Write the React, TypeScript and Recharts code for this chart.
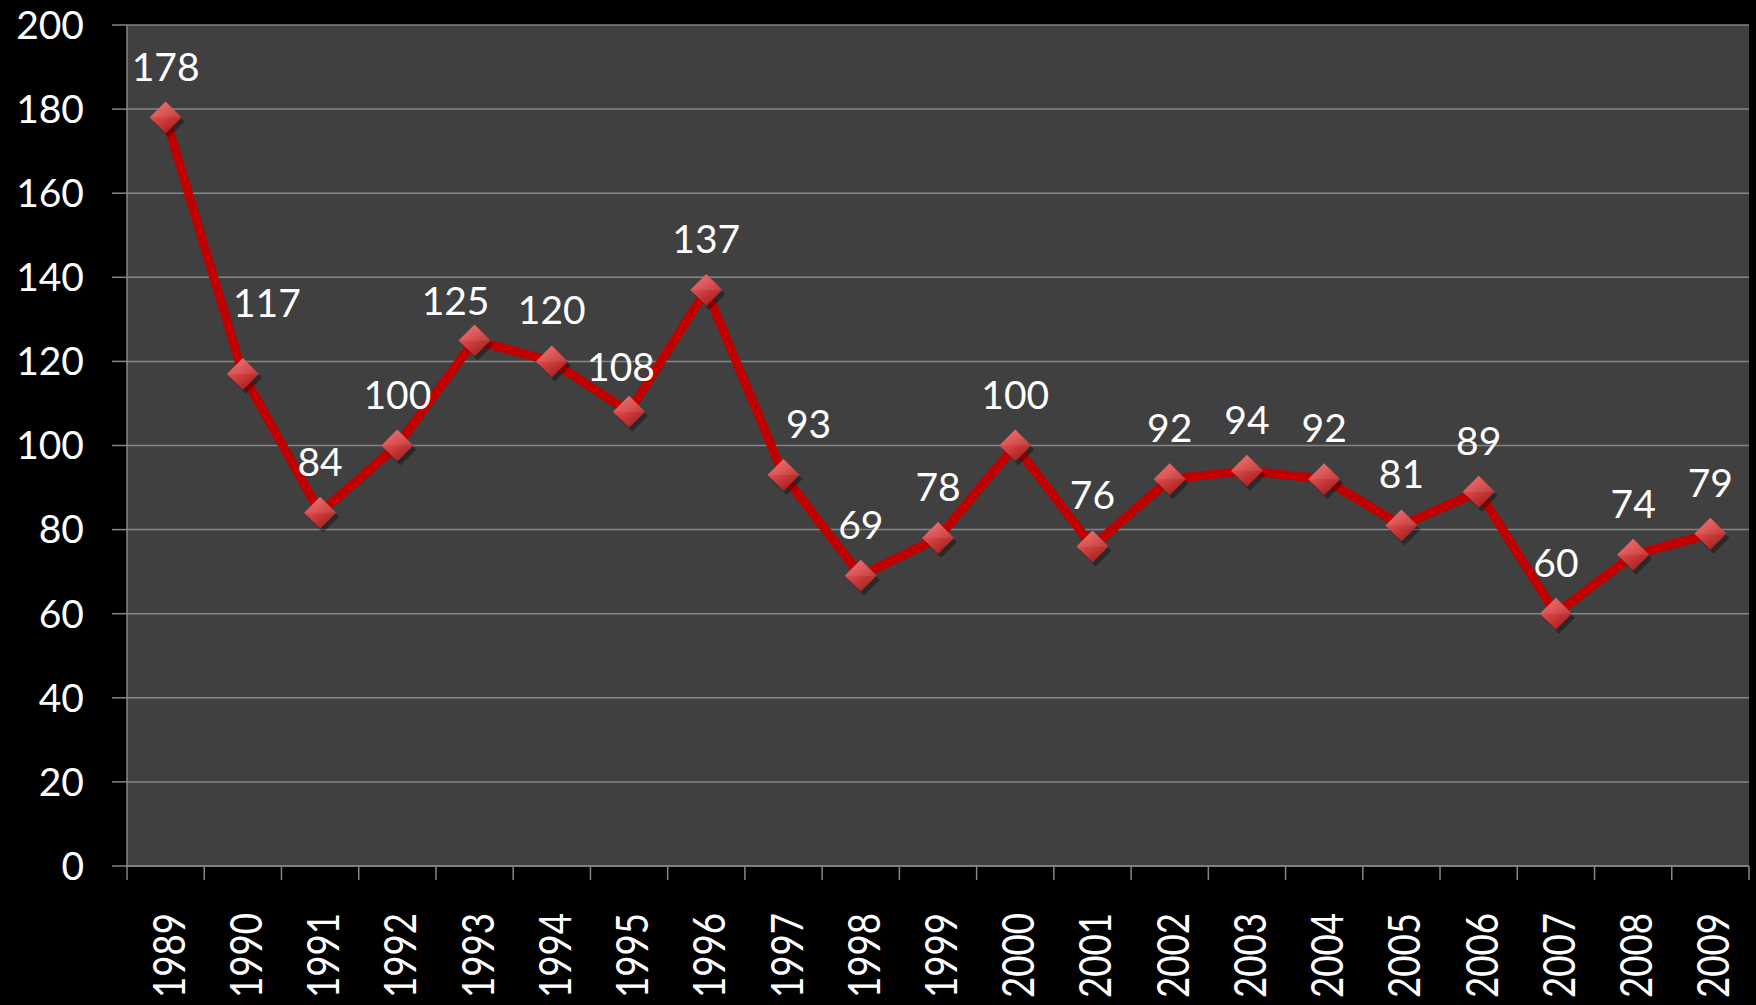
import React from "react";
import {
  LineChart,
  Line,
  XAxis,
  YAxis,
  CartesianGrid,
  LabelList,
} from "recharts";

// chart values
const years = [
  "1989", "1990", "1991", "1992", "1993", "1994", "1995", "1996", "1997", "1998", "1999",
  "2000", "2001", "2002", "2003", "2004", "2005", "2006", "2007", "2008", "2009",
];
const counts = [
  178, 117, 84, 100, 125, 120, 108, 137, 93, 69, 78, 100, 76, 92, 94, 92, 81, 89, 60, 74, 79,
];
const yTicks = [0, 20, 40, 60, 80, 100, 120, 140, 160, 180, 200];

// manual nudges of some data labels (dx, dy), like in the original
const labelNudge: Record<number, [number, number]> = {
  1: [24, -20],
  4: [-19, 12],
  6: [-8, 6],
  8: [25, 0],
};

const data = years.map((year, i) => ({ i, year, count: counts[i] }));
const centerTicks = years.map((_, i) => i);

const WIDTH = 1756;
const HEIGHT = 1005;
const Y_AXIS_W = 127;
const RIGHT = 7;
const X_AXIS_H = 139;
const HALF_BAND = (WIDTH - Y_AXIS_W - RIGHT) / years.length / 2;

const FONT = "Lato, 'Open Sans', sans-serif";
const GRID = "#868686";

const Diamond = (props: any) => {
  const { cx, cy } = props;
  if (cx == null || cy == null) return null;
  const r = 16;
  const pts = `${cx},${cy - r} ${cx + r},${cy} ${cx},${cy + r} ${cx - r},${cy}`;
  return (
    <g>
      <polygon
        points={`${cx + 3},${cy - r + 4} ${cx + r + 3},${cy + 4} ${cx + 3},${cy + r + 4} ${cx - r + 3},${cy + 4}`}
        fill="rgba(0,0,0,0.35)"
      />
      <polygon points={pts} fill="url(#diamondFill)" />
      <polygon
        points={`${cx},${cy - r} ${cx + r},${cy} ${cx},${cy} ${cx - r},${cy}`}
        fill="rgba(255,255,255,0.08)"
      />
    </g>
  );
};

const DataLabel = (props: any) => {
  const { x, y, value, index } = props;
  const [dx, dy] = labelNudge[index] || [0, 0];
  return (
    <text
      x={x + dx}
      y={y - 37 + dy}
      textAnchor="middle"
      fill="#ffffff"
      fontSize={39}
      fontFamily={FONT}
    >
      {value}
    </text>
  );
};

// year label plus the tick marks on the category boundaries
const YearTick = (props: any) => {
  const { x, payload } = props;
  const axisY = HEIGHT - X_AXIS_H;
  const top = axisY + 47;
  const isLast = payload.value === years.length - 1;
  return (
    <g>
      <line
        x1={x - HALF_BAND}
        x2={x - HALF_BAND}
        y1={axisY}
        y2={axisY + 14}
        stroke={GRID}
        strokeWidth={1.5}
      />
      {isLast && (
        <line
          x1={x + HALF_BAND}
          x2={x + HALF_BAND}
          y1={axisY}
          y2={axisY + 14}
          stroke={GRID}
          strokeWidth={1.5}
        />
      )}
      <text
        x={x + 2}
        y={top}
        transform={`rotate(-90, ${x + 2}, ${top})`}
        textAnchor="end"
        dominantBaseline="central"
        fill="#ffffff"
        fontSize={44}
        fontFamily={FONT}
        textLength={85}
        lengthAdjust="spacingAndGlyphs"
      >
        {years[payload.value]}
      </text>
    </g>
  );
};

const App: React.FC = () => {
  return (
    <div
      style={{
        position: "fixed",
        left: 0,
        top: 0,
        width: WIDTH,
        height: HEIGHT,
        background: "#000000",
      }}
    >
      <LineChart
        width={WIDTH}
        height={HEIGHT}
        data={data}
        margin={{ top: 25, right: RIGHT, left: 0, bottom: 0 }}
      >
        <defs>
          <linearGradient id="diamondFill" x1="0" y1="0" x2="0.6" y2="1">
            <stop offset="0%" stopColor="#f07070" />
            <stop offset="50%" stopColor="#d64545" />
            <stop offset="100%" stopColor="#a82020" />
          </linearGradient>
        </defs>
        <CartesianGrid
          vertical={false}
          stroke={GRID}
          strokeWidth={1.5}
          fill="#404040"
          fillOpacity={1}
        />
        <XAxis
          type="number"
          dataKey="i"
          domain={[-0.5, years.length - 0.5]}
          ticks={centerTicks}
          interval={0}
          height={X_AXIS_H}
          tickLine={false}
          axisLine={{ stroke: GRID, strokeWidth: 1.5 }}
          tick={<YearTick />}
        />
        <YAxis
          domain={[0, 200]}
          ticks={yTicks}
          interval={0}
          width={Y_AXIS_W}
          tickSize={15}
          tickMargin={28}
          tickLine={{ stroke: GRID, strokeWidth: 1.5 }}
          axisLine={{ stroke: GRID, strokeWidth: 1.5 }}
          tick={{ fill: "#ffffff", fontSize: 39, fontFamily: FONT }}
        />
        <Line
          type="linear"
          dataKey="count"
          stroke="#c00000"
          strokeWidth={9}
          strokeLinejoin="miter"
          dot={<Diamond />}
          activeDot={false}
          isAnimationActive={false}
        >
          <LabelList dataKey="count" content={<DataLabel />} />
        </Line>
      </LineChart>
    </div>
  );
};

export default App;
